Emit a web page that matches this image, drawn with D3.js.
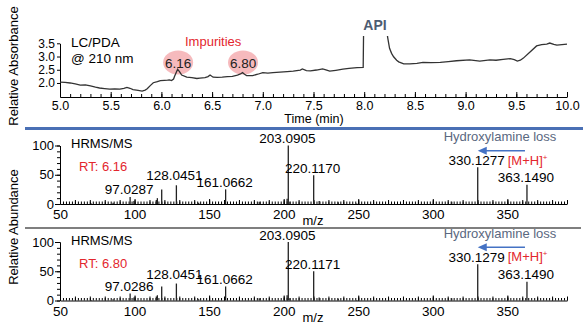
<!DOCTYPE html>
<html>
<head>
<meta charset="utf-8">
<script src="https://cdn.jsdelivr.net/npm/d3@7"></script>
<style>
  body { margin: 0; background: #fff; }
  svg { display: block; font-family: Arial, "Liberation Sans", sans-serif; }
  .axis path, .axis line { stroke: #000; stroke-width: 1; }
  .axis text { fill: #000; }
</style>
</head>
<body>
<div class="chart"></div>
<script>

// === Data: LC/PDA chromatogram ===
const lcTime = [5.00,5.05,5.10,5.15,5.20,5.25,5.30,5.35,5.39,5.44,5.49,5.54,5.59,5.63,5.66,5.69,5.72,5.77,5.81,5.84,
                5.86,5.89,5.92,5.96,5.99,6.03,6.06,6.08,6.10,6.12,6.13,6.16,6.18,6.20,6.25,6.30,6.35,6.38,6.43,6.46,
                6.48,6.51,6.55,6.60,6.65,6.70,6.75,6.78,6.80,6.82,6.84,6.90,6.95,7.00,7.05,7.10,7.17,7.24,7.30,7.37,
                7.39,7.43,7.47,7.53,7.59,7.63,7.66,7.72,7.79,7.85,7.93,7.99,8.00,8.21,8.23,8.25,8.27,8.29,8.32,8.34,
                8.39,8.45,8.52,8.58,8.66,8.75,8.83,8.91,9.04,9.14,9.24,9.30,9.37,9.44,9.48,9.51,9.54,9.57,9.63,9.70,
                9.75,9.80,9.83,9.87,9.90,9.95,10.0];
const lcAbs  = [2.03,2.02,2.00,1.97,1.92,1.93,1.89,1.84,1.81,1.79,1.77,1.78,1.77,1.80,1.83,1.80,1.75,1.72,1.69,1.73,
                1.78,1.90,2.01,2.05,2.09,2.10,2.11,2.12,2.09,2.15,2.25,2.52,2.42,2.30,2.22,2.20,2.17,2.18,2.20,2.24,
                2.30,2.22,2.21,2.22,2.24,2.25,2.30,2.34,2.39,2.33,2.28,2.28,2.33,2.39,2.37,2.39,2.41,2.43,2.45,2.49,
                2.53,2.47,2.46,2.49,2.53,2.49,2.45,2.48,2.52,2.55,2.58,2.59,6.00,6.00,3.75,3.31,3.12,2.99,2.86,2.80,
                2.72,2.72,2.74,2.78,2.77,2.78,2.81,2.84,2.87,2.83,2.87,2.86,2.89,2.92,2.88,2.83,2.86,2.94,3.15,3.40,
                3.45,3.47,3.51,3.46,3.43,3.45,3.47];
const lcYTicks = [2.0, 2.5, 3.0, 3.5];
const impurityRT = ["6.16", "6.80"];

// === Data: HRMS/MS spectra ===
const msMz   = [71.0, 85.6, 97.03, 99.6, 114.6, 115.3, 118.2, 128.05, 143.0, 161.07, 183.6, 202.3, 203.09, 204.2,
                220.12, 223.8, 236.6, 249.0, 312.7, 330.13, 363.15];
const msInt1 = [1, 2, 12, 5, 7, 10, 25, 32, 2, 25, 4, 9, 100, 4, 49, 5, 3, 1, 4, 63, 33];
const msInt2 = [1, 2, 12, 5, 7, 9, 24, 29, 2, 24, 4, 9, 100, 4, 50, 5, 3, 1, 4, 62, 32];
const labelMz  = [97.03, 128.05, 161.07, 203.09, 220.12, 330.13, 363.15];
const labels1  = ["97.0287", "128.0451", "161.0662", "203.0905", "220.1170", "330.1277", "363.1490"];
const labels2  = ["97.0286", "128.0451", "161.0662", "203.0905", "220.1171", "330.1279", "363.1490"];
const msXTicks = [50, 100, 150, 200, 250, 300, 350];
const msYTicks = [0, 50, 100];

// === SVG ===
const W = 588, H = 333;
const svg = d3.select(".chart").append("svg")
    .attr("width", W)
    .attr("height", H);

const red = "#e3262d";

// === === TOP PANEL: chromatogram === ===
const xLC = d3.scaleLinear().domain([5, 10]).range([60, 567]);
const yLC = d3.scaleLinear().domain([1.47, 3.5]).range([97, 43.3]);

svg.append("defs").append("clipPath").attr("id", "lc-clip")
    .append("rect").attr("x", 60).attr("y", 36).attr("width", 508).attr("height", 61);

// minor ticks every 0.1
svg.append("g").attr("class", "axis")
    .attr("transform", "translate(0,97)")
    .call(d3.axisBottom(xLC).tickValues(d3.range(50, 101).map(d => d / 10))
        .tickSize(-3).tickSizeOuter(0).tickFormat(""))
    .call(g => g.select(".domain").remove());

svg.append("g").attr("class", "axis")
    .attr("transform", "translate(0,97)")
    .call(d3.axisBottom(xLC).tickValues(d3.range(10, 21).map(d => d / 2))
        .tickSize(-5).tickSizeOuter(0).tickPadding(4.5).tickFormat(d3.format(".1f")))
    .call(g => g.selectAll("text").attr("font-size", 12.5));

svg.append("g").attr("class", "axis")
    .attr("transform", "translate(60,0)")
    .call(d3.axisLeft(yLC).tickValues(lcYTicks).tickSize(3).tickSizeOuter(0)
        .tickPadding(2).tickFormat(d3.format(".1f")))
    .call(g => g.selectAll("text").attr("font-size", 12));

// impurity highlight circles
const lcPeaks = impurityRT.map(Number);
svg.selectAll(".imp")
    .data(lcPeaks)
    .enter().append("ellipse")
    .attr("class", "imp")
    .attr("cx", d => xLC(d) + 0.5)
    .attr("cy", 62.5)
    .attr("rx", 15)
    .attr("ry", 12)
    .attr("fill", "#f4a9ad")
    .attr("fill-opacity", 0.8);

svg.selectAll(".imp-label")
    .data(impurityRT)
    .enter().append("text")
    .attr("x", d => xLC(+d) + 0.5)
    .attr("y", 67.5)
    .attr("text-anchor", "middle")
    .attr("font-size", 13.5)
    .attr("fill", "#222")
    .text(d => d);

// trace
const lcLine = d3.line()
    .x(d => xLC(d[0]))
    .y(d => yLC(d[1]));

svg.append("path")
    .datum(lcTime.map((t, i) => [t, lcAbs[i]]))
    .attr("clip-path", "url(#lc-clip)")
    .attr("d", lcLine)
    .attr("fill", "none")
    .attr("stroke", "#333")
    .attr("stroke-width", 1.3);

svg.append("text").attr("x", 71).attr("y", 47).attr("font-size", 13.5).text("LC/PDA");
svg.append("text").attr("x", 71).attr("y", 63).attr("font-size", 13.5).text("@ 210 nm");
svg.append("text").attr("x", 185).attr("y", 46).attr("font-size", 13).attr("fill", red).text("Impurities");
svg.append("text").attr("x", 375).attr("y", 30).attr("font-size", 14).attr("font-weight", "bold")
    .attr("text-anchor", "middle").attr("fill", "#4d5c72").text("API");
svg.append("text").attr("x", 314).attr("y", 123).attr("font-size", 12.5)
    .attr("text-anchor", "middle").text("Time (min)");
svg.append("text")
    .attr("transform", "translate(18,66) rotate(-90)")
    .attr("text-anchor", "middle").attr("font-size", 13)
    .text("Relative Absorbance");

// separator
svg.append("line").attr("x1", 25).attr("x2", 583).attr("y1", 128.5).attr("y2", 128.5)
    .attr("stroke", "#4a70b5").attr("stroke-width", 3);

// === === MS PANELS === ===
const xMS = d3.scaleLinear().domain([50, 390]).range([60, 567]);

function drawSpectrum(base, intens, labels, rt) {
    const y = d3.scaleLinear().domain([0, 100]).range([base, base - 58.5]);
    const g = svg.append("g");

    // x axis: minor ticks every 2, medium every 10, major every 50
    g.append("g").attr("class", "axis")
        .attr("transform", `translate(0,${base})`)
        .call(d3.axisBottom(xMS).tickValues(d3.range(50, 391, 2)).tickSize(-2.5).tickSizeOuter(0).tickFormat(""))
        .call(a => a.select(".domain").remove());
    g.append("g").attr("class", "axis")
        .attr("transform", `translate(0,${base})`)
        .call(d3.axisBottom(xMS).tickValues(d3.range(50, 391, 10)).tickSize(-4).tickSizeOuter(0).tickFormat(""))
        .call(a => a.select(".domain").remove());
    g.append("g").attr("class", "axis")
        .attr("transform", `translate(0,${base})`)
        .call(d3.axisBottom(xMS).tickValues(msXTicks).tickSize(-5).tickSizeOuter(0).tickPadding(5.5))
        .call(a => a.selectAll("text").attr("font-size", 13.5))
        .call(a => a.select(".domain").attr("stroke-width", 1.5));

    // y axis
    g.append("g").attr("class", "axis")
        .attr("transform", "translate(60,0)")
        .call(d3.axisLeft(y).tickValues(d3.range(0, 101, 10)).tickSize(3).tickSizeOuter(0).tickFormat(""));
    g.append("g").attr("class", "axis")
        .attr("transform", "translate(60,0)")
        .call(d3.axisLeft(y).tickValues(msYTicks).tickSize(5).tickSizeOuter(0).tickPadding(1))
        .call(a => a.selectAll("text").attr("font-size", 13));

    // sticks
    g.selectAll(".stick")
        .data(msMz.map((m, i) => [m, intens[i]]))
        .enter().append("line")
        .attr("x1", d => xMS(d[0])).attr("x2", d => xMS(d[0]))
        .attr("y1", y(0)).attr("y2", d => y(d[1]))
        .attr("stroke", "#222").attr("stroke-width", 1.3);

    // peak labels
    const lab = labelMz.map((m, i) => [m, intens[msMz.indexOf(m)], labels[i]]);
    g.selectAll(".plab")
        .data(lab)
        .enter().append("text")
        .attr("x", d => xMS(d[0]) - (d[0] === 128.05 ? 2 : 1))
        .attr("y", d => y(d[1]) - (d[0] === 128.05 ? 5 : 2.5))
        .attr("text-anchor", "middle")
        .attr("font-size", 13.5)
        .text(d => d[2]);

    g.append("text").attr("x", xMS(330.13) + 30).attr("y", y(63) - 2.5)
        .attr("font-size", 13).attr("fill", red)
        .text("[M+H]").append("tspan").attr("dy", -5).attr("font-size", 8).text("+");

    g.append("text").attr("x", 71).attr("y", base - 56).attr("font-size", 13).text("HRMS/MS");
    g.append("text").attr("x", 79).attr("y", base - 33).attr("font-size", 13).attr("fill", red).text(rt);
    g.append("text").attr("x", 313).attr("y", base + 21).attr("font-size", 13)
        .attr("text-anchor", "middle").text("m/z");

    // hydroxylamine loss arrow
    g.append("text").attr("x", 500).attr("y", y(107)).attr("font-size", 13)
        .attr("text-anchor", "middle").attr("fill", "#5a6880").text("Hydroxylamine loss");
    g.append("line")
        .attr("x1", xMS(363.15) - 2).attr("x2", xMS(330.13) + 8)
        .attr("y1", y(91)).attr("y2", y(91))
        .attr("stroke", "#4472c4").attr("stroke-width", 1.6);
    g.append("path")
        .attr("d", `M${xMS(330.13)},${y(91)} l9,-4 l0,8 z`)
        .attr("fill", "#4472c4");
}

drawSpectrum(204, msInt1, labels1, "RT: 6.16");

svg.append("line").attr("x1", 25).attr("x2", 581).attr("y1", 228).attr("y2", 228)
    .attr("stroke", "#000").attr("stroke-width", 1.2);

drawSpectrum(300.5, msInt2, labels2, "RT: 6.80");

svg.append("text")
    .attr("transform", "translate(18,227) rotate(-90)")
    .attr("text-anchor", "middle").attr("font-size", 13)
    .text("Relative Abundance");

</script>
</body>
</html>
